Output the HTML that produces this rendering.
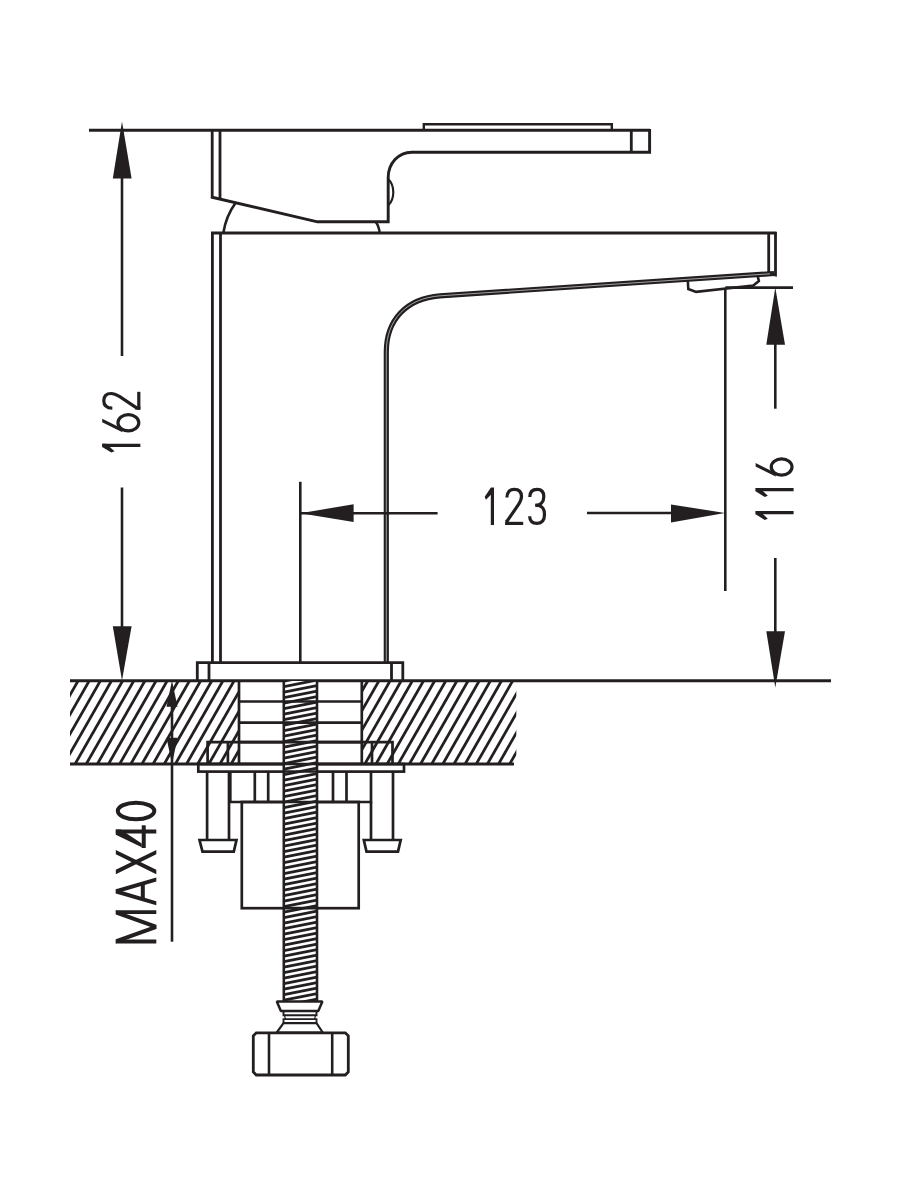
<!DOCTYPE html>
<html><head><meta charset="utf-8"><style>
html,body{margin:0;padding:0;background:#fff;width:900px;height:1200px;overflow:hidden}
svg{display:block}
text{font-family:"Liberation Sans",sans-serif}
</style></head><body>
<svg width="900" height="1200" viewBox="0 0 900 1200" stroke="#231f20" fill="none" stroke-linecap="butt" stroke-linejoin="miter">
<defs>
<clipPath id="hl"><rect x="70" y="681" width="169" height="83"/></clipPath>
<clipPath id="hr"><rect x="361.8" y="681" width="154.5" height="83"/></clipPath>
<clipPath id="rod"><rect x="283.8" y="681" width="33.2" height="320.4"/></clipPath>
</defs>
<line x1="89" y1="130.2" x2="650" y2="130.2" stroke-width="3.02"/>
<line x1="122" y1="176" x2="122" y2="356" stroke-width="2.59"/>
<line x1="122" y1="487.5" x2="122" y2="628" stroke-width="2.59"/>
<polygon points="122,121.5 112.8,178.5 131.6,178.5" fill="#231f20" stroke="none"/>
<polygon points="122,680.5 112.8,626.3 131.6,626.3" fill="#231f20" stroke="none"/>
<line x1="212.2" y1="129" x2="212.2" y2="198" stroke-width="2.81"/>
<line x1="220" y1="130" x2="220" y2="198.5" stroke-width="2.81"/>
<path d="M211,197 L317.5,221.8 L388.2,221.8 L388.2,177.5 C388.2,163.5 398.5,152.2 411.7,152.2 L649.6,152.2 L649.6,129" stroke-width="2.92" fill="none"/>
<line x1="631.3" y1="130" x2="631.3" y2="152.2" stroke-width="2.81"/>
<path d="M423.8,130 L423.8,124.3 L611.8,124.3 L611.8,130" stroke-width="2.38" fill="none"/>
<path d="M388.2,179 C395,185.5 395,199 388.2,205.5" stroke-width="2.16" fill="none"/>
<path d="M235.5,203 Q226,216 223.3,233" stroke-width="2.59" fill="none"/>
<path d="M375.8,222 Q378.8,226 379.8,233" stroke-width="2.48" fill="none"/>
<line x1="211" y1="233" x2="776.5" y2="233" stroke-width="2.92"/>
<line x1="212.4" y1="232" x2="212.4" y2="663" stroke-width="2.81"/>
<line x1="220.5" y1="233" x2="220.5" y2="663" stroke-width="2.81"/>
<path d="M775.5,232 L775.5,275 L768.7,273.5 L768.7,233" stroke-width="2.81" fill="none"/>
<path d="M774,273.5 L440,295.8 C406,298.5 386.3,320 386.3,352 L386.3,662.5" stroke-width="5.18" fill="none"/>
<path d="M770,273.8 L440,295.8 C406,298.5 386.3,320 386.3,352 L386.3,662" stroke-width="0.90" fill="none" stroke="#b0b0b0"/>
<path d="M687.8,280.5 L688.3,289 L696.1,291.9 L753.3,285.6 L758.9,281.1 L757.8,276.5" stroke-width="2.59" fill="none"/>
<path d="M197.3,680 L197.3,662.6 L402.8,662.6 L402.8,680" stroke-width="2.81" fill="none"/>
<line x1="209" y1="662.6" x2="209" y2="680" stroke-width="2.81"/>
<line x1="391.5" y1="662.6" x2="391.5" y2="680" stroke-width="2.81"/>
<line x1="300.3" y1="481.8" x2="300.3" y2="662.6" stroke-width="2.59"/>
<line x1="300.3" y1="513.2" x2="437.6" y2="513.2" stroke-width="2.59"/>
<polygon points="300.3,513.2 353.6,504.3 353.6,522.1" fill="#231f20" stroke="none"/>
<line x1="587" y1="513" x2="672" y2="513" stroke-width="2.59"/>
<polygon points="725,513 671,504.4 671,522.4" fill="#231f20" stroke="none"/>
<line x1="725.3" y1="288" x2="725.3" y2="591" stroke-width="2.59"/>
<line x1="725.3" y1="287.6" x2="793" y2="287.6" stroke-width="2.59"/>
<line x1="775.3" y1="344" x2="775.3" y2="408.7" stroke-width="2.59"/>
<line x1="775.3" y1="558" x2="775.3" y2="632" stroke-width="2.59"/>
<polygon points="775.3,287.5 766.3,344.7 785,344.7" fill="#231f20" stroke="none"/>
<polygon points="775.3,687.5 766.3,631.3 785,631.3" fill="#231f20" stroke="none"/>
<line x1="70" y1="680.7" x2="831" y2="680.7" stroke-width="2.92"/>
<line x1="70" y1="764" x2="514" y2="764" stroke-width="2.92"/>
<line x1="239" y1="681" x2="239" y2="764" stroke-width="2.70"/>
<line x1="361.8" y1="681" x2="361.8" y2="764" stroke-width="2.70"/>
<g clip-path="url(#hl)" stroke-width="2.75"><line x1="-80.91" y1="764.0" x2="-33.48" y2="681.0"/><line x1="-69.77" y1="764.0" x2="-22.34" y2="681.0"/><line x1="-58.62" y1="764.0" x2="-11.19" y2="681.0"/><line x1="-47.48" y1="764.0" x2="-0.05" y2="681.0"/><line x1="-36.34" y1="764.0" x2="11.09" y2="681.0"/><line x1="-25.19" y1="764.0" x2="22.24" y2="681.0"/><line x1="-14.05" y1="764.0" x2="33.38" y2="681.0"/><line x1="-2.90" y1="764.0" x2="44.53" y2="681.0"/><line x1="8.24" y1="764.0" x2="55.67" y2="681.0"/><line x1="19.38" y1="764.0" x2="66.81" y2="681.0"/><line x1="30.53" y1="764.0" x2="77.96" y2="681.0"/><line x1="41.67" y1="764.0" x2="89.10" y2="681.0"/><line x1="52.82" y1="764.0" x2="100.25" y2="681.0"/><line x1="63.96" y1="764.0" x2="111.39" y2="681.0"/><line x1="75.10" y1="764.0" x2="122.53" y2="681.0"/><line x1="86.25" y1="764.0" x2="133.68" y2="681.0"/><line x1="97.39" y1="764.0" x2="144.82" y2="681.0"/><line x1="108.54" y1="764.0" x2="155.97" y2="681.0"/><line x1="119.68" y1="764.0" x2="167.11" y2="681.0"/><line x1="130.82" y1="764.0" x2="178.25" y2="681.0"/><line x1="141.97" y1="764.0" x2="189.40" y2="681.0"/><line x1="153.11" y1="764.0" x2="200.54" y2="681.0"/><line x1="164.26" y1="764.0" x2="211.69" y2="681.0"/><line x1="175.40" y1="764.0" x2="222.83" y2="681.0"/><line x1="186.54" y1="764.0" x2="233.97" y2="681.0"/><line x1="197.69" y1="764.0" x2="245.12" y2="681.0"/><line x1="208.83" y1="764.0" x2="256.26" y2="681.0"/><line x1="219.98" y1="764.0" x2="267.41" y2="681.0"/><line x1="231.12" y1="764.0" x2="278.55" y2="681.0"/><line x1="242.26" y1="764.0" x2="289.69" y2="681.0"/><line x1="253.41" y1="764.0" x2="300.84" y2="681.0"/><line x1="264.55" y1="764.0" x2="311.98" y2="681.0"/><line x1="275.70" y1="764.0" x2="323.13" y2="681.0"/><line x1="286.84" y1="764.0" x2="334.27" y2="681.0"/><line x1="297.98" y1="764.0" x2="345.41" y2="681.0"/><line x1="309.13" y1="764.0" x2="356.56" y2="681.0"/><line x1="320.27" y1="764.0" x2="367.70" y2="681.0"/><line x1="331.42" y1="764.0" x2="378.85" y2="681.0"/><line x1="342.56" y1="764.0" x2="389.99" y2="681.0"/><line x1="353.70" y1="764.0" x2="401.13" y2="681.0"/><line x1="364.85" y1="764.0" x2="412.28" y2="681.0"/><line x1="375.99" y1="764.0" x2="423.42" y2="681.0"/><line x1="387.14" y1="764.0" x2="434.57" y2="681.0"/><line x1="398.28" y1="764.0" x2="445.71" y2="681.0"/><line x1="409.42" y1="764.0" x2="456.85" y2="681.0"/><line x1="420.57" y1="764.0" x2="468.00" y2="681.0"/><line x1="431.71" y1="764.0" x2="479.14" y2="681.0"/><line x1="442.86" y1="764.0" x2="490.29" y2="681.0"/><line x1="454.00" y1="764.0" x2="501.43" y2="681.0"/><line x1="465.14" y1="764.0" x2="512.57" y2="681.0"/><line x1="476.29" y1="764.0" x2="523.72" y2="681.0"/><line x1="487.43" y1="764.0" x2="534.86" y2="681.0"/><line x1="498.58" y1="764.0" x2="546.01" y2="681.0"/><line x1="509.72" y1="764.0" x2="557.15" y2="681.0"/><line x1="520.86" y1="764.0" x2="568.29" y2="681.0"/><line x1="532.01" y1="764.0" x2="579.44" y2="681.0"/><line x1="543.15" y1="764.0" x2="590.58" y2="681.0"/><line x1="554.30" y1="764.0" x2="601.73" y2="681.0"/><line x1="565.44" y1="764.0" x2="612.87" y2="681.0"/><line x1="576.58" y1="764.0" x2="624.01" y2="681.0"/><line x1="587.73" y1="764.0" x2="635.16" y2="681.0"/><line x1="598.87" y1="764.0" x2="646.30" y2="681.0"/><line x1="610.02" y1="764.0" x2="657.45" y2="681.0"/><line x1="621.16" y1="764.0" x2="668.59" y2="681.0"/><line x1="632.30" y1="764.0" x2="679.73" y2="681.0"/><line x1="643.45" y1="764.0" x2="690.88" y2="681.0"/><line x1="654.59" y1="764.0" x2="702.02" y2="681.0"/><line x1="665.74" y1="764.0" x2="713.17" y2="681.0"/><line x1="676.88" y1="764.0" x2="724.31" y2="681.0"/><line x1="688.02" y1="764.0" x2="735.45" y2="681.0"/><line x1="699.17" y1="764.0" x2="746.60" y2="681.0"/><line x1="710.31" y1="764.0" x2="757.74" y2="681.0"/><line x1="721.46" y1="764.0" x2="768.89" y2="681.0"/><line x1="732.60" y1="764.0" x2="780.03" y2="681.0"/><line x1="743.74" y1="764.0" x2="791.17" y2="681.0"/><line x1="754.89" y1="764.0" x2="802.32" y2="681.0"/><line x1="766.03" y1="764.0" x2="813.46" y2="681.0"/><line x1="777.18" y1="764.0" x2="824.61" y2="681.0"/><line x1="788.32" y1="764.0" x2="835.75" y2="681.0"/><line x1="799.46" y1="764.0" x2="846.89" y2="681.0"/><line x1="810.61" y1="764.0" x2="858.04" y2="681.0"/><line x1="821.75" y1="764.0" x2="869.18" y2="681.0"/><line x1="832.90" y1="764.0" x2="880.33" y2="681.0"/><line x1="844.04" y1="764.0" x2="891.47" y2="681.0"/><line x1="855.18" y1="764.0" x2="902.61" y2="681.0"/></g>
<g clip-path="url(#hr)" stroke-width="2.75"><line x1="-80.91" y1="764.0" x2="-33.48" y2="681.0"/><line x1="-69.77" y1="764.0" x2="-22.34" y2="681.0"/><line x1="-58.62" y1="764.0" x2="-11.19" y2="681.0"/><line x1="-47.48" y1="764.0" x2="-0.05" y2="681.0"/><line x1="-36.34" y1="764.0" x2="11.09" y2="681.0"/><line x1="-25.19" y1="764.0" x2="22.24" y2="681.0"/><line x1="-14.05" y1="764.0" x2="33.38" y2="681.0"/><line x1="-2.90" y1="764.0" x2="44.53" y2="681.0"/><line x1="8.24" y1="764.0" x2="55.67" y2="681.0"/><line x1="19.38" y1="764.0" x2="66.81" y2="681.0"/><line x1="30.53" y1="764.0" x2="77.96" y2="681.0"/><line x1="41.67" y1="764.0" x2="89.10" y2="681.0"/><line x1="52.82" y1="764.0" x2="100.25" y2="681.0"/><line x1="63.96" y1="764.0" x2="111.39" y2="681.0"/><line x1="75.10" y1="764.0" x2="122.53" y2="681.0"/><line x1="86.25" y1="764.0" x2="133.68" y2="681.0"/><line x1="97.39" y1="764.0" x2="144.82" y2="681.0"/><line x1="108.54" y1="764.0" x2="155.97" y2="681.0"/><line x1="119.68" y1="764.0" x2="167.11" y2="681.0"/><line x1="130.82" y1="764.0" x2="178.25" y2="681.0"/><line x1="141.97" y1="764.0" x2="189.40" y2="681.0"/><line x1="153.11" y1="764.0" x2="200.54" y2="681.0"/><line x1="164.26" y1="764.0" x2="211.69" y2="681.0"/><line x1="175.40" y1="764.0" x2="222.83" y2="681.0"/><line x1="186.54" y1="764.0" x2="233.97" y2="681.0"/><line x1="197.69" y1="764.0" x2="245.12" y2="681.0"/><line x1="208.83" y1="764.0" x2="256.26" y2="681.0"/><line x1="219.98" y1="764.0" x2="267.41" y2="681.0"/><line x1="231.12" y1="764.0" x2="278.55" y2="681.0"/><line x1="242.26" y1="764.0" x2="289.69" y2="681.0"/><line x1="253.41" y1="764.0" x2="300.84" y2="681.0"/><line x1="264.55" y1="764.0" x2="311.98" y2="681.0"/><line x1="275.70" y1="764.0" x2="323.13" y2="681.0"/><line x1="286.84" y1="764.0" x2="334.27" y2="681.0"/><line x1="297.98" y1="764.0" x2="345.41" y2="681.0"/><line x1="309.13" y1="764.0" x2="356.56" y2="681.0"/><line x1="320.27" y1="764.0" x2="367.70" y2="681.0"/><line x1="331.42" y1="764.0" x2="378.85" y2="681.0"/><line x1="342.56" y1="764.0" x2="389.99" y2="681.0"/><line x1="353.70" y1="764.0" x2="401.13" y2="681.0"/><line x1="364.85" y1="764.0" x2="412.28" y2="681.0"/><line x1="375.99" y1="764.0" x2="423.42" y2="681.0"/><line x1="387.14" y1="764.0" x2="434.57" y2="681.0"/><line x1="398.28" y1="764.0" x2="445.71" y2="681.0"/><line x1="409.42" y1="764.0" x2="456.85" y2="681.0"/><line x1="420.57" y1="764.0" x2="468.00" y2="681.0"/><line x1="431.71" y1="764.0" x2="479.14" y2="681.0"/><line x1="442.86" y1="764.0" x2="490.29" y2="681.0"/><line x1="454.00" y1="764.0" x2="501.43" y2="681.0"/><line x1="465.14" y1="764.0" x2="512.57" y2="681.0"/><line x1="476.29" y1="764.0" x2="523.72" y2="681.0"/><line x1="487.43" y1="764.0" x2="534.86" y2="681.0"/><line x1="498.58" y1="764.0" x2="546.01" y2="681.0"/><line x1="509.72" y1="764.0" x2="557.15" y2="681.0"/><line x1="520.86" y1="764.0" x2="568.29" y2="681.0"/><line x1="532.01" y1="764.0" x2="579.44" y2="681.0"/><line x1="543.15" y1="764.0" x2="590.58" y2="681.0"/><line x1="554.30" y1="764.0" x2="601.73" y2="681.0"/><line x1="565.44" y1="764.0" x2="612.87" y2="681.0"/><line x1="576.58" y1="764.0" x2="624.01" y2="681.0"/><line x1="587.73" y1="764.0" x2="635.16" y2="681.0"/><line x1="598.87" y1="764.0" x2="646.30" y2="681.0"/><line x1="610.02" y1="764.0" x2="657.45" y2="681.0"/><line x1="621.16" y1="764.0" x2="668.59" y2="681.0"/><line x1="632.30" y1="764.0" x2="679.73" y2="681.0"/><line x1="643.45" y1="764.0" x2="690.88" y2="681.0"/><line x1="654.59" y1="764.0" x2="702.02" y2="681.0"/><line x1="665.74" y1="764.0" x2="713.17" y2="681.0"/><line x1="676.88" y1="764.0" x2="724.31" y2="681.0"/><line x1="688.02" y1="764.0" x2="735.45" y2="681.0"/><line x1="699.17" y1="764.0" x2="746.60" y2="681.0"/><line x1="710.31" y1="764.0" x2="757.74" y2="681.0"/><line x1="721.46" y1="764.0" x2="768.89" y2="681.0"/><line x1="732.60" y1="764.0" x2="780.03" y2="681.0"/><line x1="743.74" y1="764.0" x2="791.17" y2="681.0"/><line x1="754.89" y1="764.0" x2="802.32" y2="681.0"/><line x1="766.03" y1="764.0" x2="813.46" y2="681.0"/><line x1="777.18" y1="764.0" x2="824.61" y2="681.0"/><line x1="788.32" y1="764.0" x2="835.75" y2="681.0"/><line x1="799.46" y1="764.0" x2="846.89" y2="681.0"/><line x1="810.61" y1="764.0" x2="858.04" y2="681.0"/><line x1="821.75" y1="764.0" x2="869.18" y2="681.0"/><line x1="832.90" y1="764.0" x2="880.33" y2="681.0"/><line x1="844.04" y1="764.0" x2="891.47" y2="681.0"/><line x1="855.18" y1="764.0" x2="902.61" y2="681.0"/></g>
<line x1="172" y1="705" x2="172" y2="941.7" stroke-width="2.59"/>
<polygon points="172,680.5 166.5,706.7 177.5,706.7" fill="#231f20" stroke="none"/>
<polygon points="172,764 166.5,737.8 177.5,737.8" fill="#231f20" stroke="none"/>
<line x1="240" y1="701.5" x2="361" y2="701.5" stroke-width="2.70"/>
<line x1="240" y1="722.6" x2="361" y2="722.6" stroke-width="2.70"/>
<line x1="240" y1="742.1" x2="361" y2="742.1" stroke-width="2.70"/>
<path d="M207.6,764 L207.6,742.1 L392.5,742.1 L392.5,764" stroke-width="2.70" fill="none"/>
<line x1="227.9" y1="742.1" x2="227.9" y2="764" stroke-width="2.70"/>
<line x1="372" y1="742.1" x2="372" y2="764" stroke-width="2.70"/>
<rect x="198.3" y="764" width="205.7" height="7.6" fill="none" stroke-width="2.7"/>
<path d="M230.3,771.5 L230.3,802 L371,802 L371,771.5" stroke-width="2.70" fill="none"/>
<line x1="254.8" y1="771.5" x2="254.8" y2="802" stroke-width="2.70"/>
<line x1="268.2" y1="771.5" x2="268.2" y2="802" stroke-width="2.70"/>
<line x1="333" y1="771.5" x2="333" y2="802" stroke-width="2.70"/>
<line x1="346.5" y1="771.5" x2="346.5" y2="802" stroke-width="2.70"/>
<line x1="207.1" y1="771.5" x2="207.1" y2="840" stroke-width="2.70"/>
<line x1="229" y1="771.5" x2="229" y2="840" stroke-width="2.70"/>
<path d="M199.5,840 L236.5,840 L233.8,851.6 L202.5,851.6 Z" stroke-width="2.70" fill="none"/>
<line x1="393" y1="771.5" x2="393" y2="840" stroke-width="2.70"/>
<line x1="371" y1="802" x2="371" y2="840" stroke-width="2.70"/>
<path d="M363.8,840 L400.7,840 L398,851.6 L366.5,851.6 Z" stroke-width="2.70" fill="none"/>
<rect x="241.8" y="802" width="116.9" height="106.2" fill="none" stroke-width="2.7"/>
<rect x="283.8" y="681" width="33.2" height="320.4" fill="#fff" stroke="none"/>
<g clip-path="url(#rod)" stroke-width="2.85"><line x1="284" y1="659.20" x2="317" y2="652.60"/><line x1="284" y1="664.70" x2="317" y2="658.10"/><line x1="284" y1="670.20" x2="317" y2="663.60"/><line x1="284" y1="675.70" x2="317" y2="669.10"/><line x1="284" y1="681.20" x2="317" y2="674.60"/><line x1="284" y1="686.70" x2="317" y2="680.10"/><line x1="284" y1="692.20" x2="317" y2="685.60"/><line x1="284" y1="697.70" x2="317" y2="691.10"/><line x1="284" y1="703.20" x2="317" y2="696.60"/><line x1="284" y1="708.70" x2="317" y2="702.10"/><line x1="284" y1="714.20" x2="317" y2="707.60"/><line x1="284" y1="719.70" x2="317" y2="713.10"/><line x1="284" y1="725.20" x2="317" y2="718.60"/><line x1="284" y1="730.70" x2="317" y2="724.10"/><line x1="284" y1="736.20" x2="317" y2="729.60"/><line x1="284" y1="741.70" x2="317" y2="735.10"/><line x1="284" y1="747.20" x2="317" y2="740.60"/><line x1="284" y1="752.70" x2="317" y2="746.10"/><line x1="284" y1="758.20" x2="317" y2="751.60"/><line x1="284" y1="763.70" x2="317" y2="757.10"/><line x1="284" y1="769.20" x2="317" y2="762.60"/><line x1="284" y1="774.70" x2="317" y2="768.10"/><line x1="284" y1="780.20" x2="317" y2="773.60"/><line x1="284" y1="785.70" x2="317" y2="779.10"/><line x1="284" y1="791.20" x2="317" y2="784.60"/><line x1="284" y1="796.70" x2="317" y2="790.10"/><line x1="284" y1="802.20" x2="317" y2="795.60"/><line x1="284" y1="807.70" x2="317" y2="801.10"/><line x1="284" y1="813.20" x2="317" y2="806.60"/><line x1="284" y1="818.70" x2="317" y2="812.10"/><line x1="284" y1="824.20" x2="317" y2="817.60"/><line x1="284" y1="829.70" x2="317" y2="823.10"/><line x1="284" y1="835.20" x2="317" y2="828.60"/><line x1="284" y1="840.70" x2="317" y2="834.10"/><line x1="284" y1="846.20" x2="317" y2="839.60"/><line x1="284" y1="851.70" x2="317" y2="845.10"/><line x1="284" y1="857.20" x2="317" y2="850.60"/><line x1="284" y1="862.70" x2="317" y2="856.10"/><line x1="284" y1="868.20" x2="317" y2="861.60"/><line x1="284" y1="873.70" x2="317" y2="867.10"/><line x1="284" y1="879.20" x2="317" y2="872.60"/><line x1="284" y1="884.70" x2="317" y2="878.10"/><line x1="284" y1="890.20" x2="317" y2="883.60"/><line x1="284" y1="895.70" x2="317" y2="889.10"/><line x1="284" y1="901.20" x2="317" y2="894.60"/><line x1="284" y1="906.70" x2="317" y2="900.10"/><line x1="284" y1="912.20" x2="317" y2="905.60"/><line x1="284" y1="917.70" x2="317" y2="911.10"/><line x1="284" y1="923.20" x2="317" y2="916.60"/><line x1="284" y1="928.70" x2="317" y2="922.10"/><line x1="284" y1="934.20" x2="317" y2="927.60"/><line x1="284" y1="939.70" x2="317" y2="933.10"/><line x1="284" y1="945.20" x2="317" y2="938.60"/><line x1="284" y1="950.70" x2="317" y2="944.10"/><line x1="284" y1="956.20" x2="317" y2="949.60"/><line x1="284" y1="961.70" x2="317" y2="955.10"/><line x1="284" y1="967.20" x2="317" y2="960.60"/><line x1="284" y1="972.70" x2="317" y2="966.10"/><line x1="284" y1="978.20" x2="317" y2="971.60"/><line x1="284" y1="983.70" x2="317" y2="977.10"/><line x1="284" y1="989.20" x2="317" y2="982.60"/><line x1="284" y1="994.70" x2="317" y2="988.10"/><line x1="284" y1="1000.20" x2="317" y2="993.60"/><line x1="284" y1="1005.70" x2="317" y2="999.10"/><line x1="284" y1="1011.20" x2="317" y2="1004.60"/><line x1="284" y1="1016.70" x2="317" y2="1010.10"/><line x1="284" y1="1022.20" x2="317" y2="1015.60"/><line x1="284" y1="1027.70" x2="317" y2="1021.10"/><line x1="284" y1="1033.20" x2="317" y2="1026.60"/><line x1="284" y1="1038.70" x2="317" y2="1032.10"/><line x1="284" y1="1044.20" x2="317" y2="1037.60"/><line x1="284" y1="1049.70" x2="317" y2="1043.10"/><line x1="284" y1="1055.20" x2="317" y2="1048.60"/><line x1="284" y1="1060.70" x2="317" y2="1054.10"/><line x1="284" y1="1066.20" x2="317" y2="1059.60"/></g>
<line x1="283.8" y1="681" x2="283.8" y2="1001.4" stroke-width="2.59"/>
<line x1="317" y1="681" x2="317" y2="1001.4" stroke-width="2.59"/>
<line x1="283.8" y1="701.5" x2="317" y2="701.5" stroke-width="2.70"/>
<line x1="283.8" y1="722.6" x2="317" y2="722.6" stroke-width="2.70"/>
<line x1="283.8" y1="742.1" x2="317" y2="742.1" stroke-width="2.70"/>
<line x1="283.8" y1="764" x2="317" y2="764" stroke-width="2.70"/>
<line x1="283.8" y1="771.5" x2="317" y2="771.5" stroke-width="2.70"/>
<line x1="283.8" y1="802" x2="317" y2="802" stroke-width="2.70"/>
<line x1="283.8" y1="908.2" x2="317" y2="908.2" stroke-width="2.70"/>
<path d="M276.8,1001.4 L322.4,1001.4 L318.3,1011 L280.9,1011 Z" stroke-width="2.48" fill="none" stroke-linejoin="bevel"/>
<path d="M283.5,1011 L283.5,1015.2 L316.5,1015.2 L316.5,1011" stroke-width="1.94" fill="none"/>
<path d="M284.5,1015.2 L285.5,1019.4 M315.5,1015.2 L314.5,1019.4" stroke-width="1.20" fill="none"/>
<path d="M283.5,1023 L283.5,1019.2 L316.5,1019.2 L316.5,1023" stroke-width="1.84" fill="none"/>
<path d="M283.5,1023.2 L316.5,1023.2 L322.8,1032.5 L276.7,1032.5 Z" stroke-width="2.16" fill="none" stroke-linejoin="bevel"/>
<path d="M256.3,1032.8 L345.3,1032.8 L348.3,1035.8 L348.3,1072 L345.3,1075 L256.3,1075 L253.3,1072 L253.3,1035.8 Z" stroke-width="2.81" fill="none"/>
<line x1="269" y1="1032.8" x2="269" y2="1075" stroke-width="2.59"/>
<line x1="332.2" y1="1032.8" x2="332.2" y2="1075" stroke-width="2.59"/>
<g transform="translate(484.7,487.7)"><g transform="translate(0,0)"><polygon points="6.10,0.00 9.30,0.00 9.30,4.00 1.22,12.01 0.00,8.95" stroke="none" fill="#231f20"/><polygon points="6.10,0.00 9.30,0.00 9.30,37.30 6.10,37.30" stroke="none" fill="#231f20"/></g><g transform="translate(20.6,0)"><path d="M1.60,9.88 C1.60,4.10 4.65,1.60 8.95,1.60 C13.42,1.60 16.20,4.10 16.20,8.77 C16.20,11.75 15.04,13.80 13.25,16.79 L1.76,33.46" stroke-width="3.2" fill="none"/><polygon points="0.00,34.10 17.90,34.10 17.90,37.30 0.00,37.30" stroke="none" fill="#231f20"/><polygon points="0.00,32.18 3.20,32.18 3.20,37.30 0.00,37.30" stroke="none" fill="#231f20"/></g><g transform="translate(43.5,0)"><path d="M1.60,9.32 C1.60,3.73 4.47,1.60 8.95,1.60 C13.60,1.60 15.60,3.73 15.60,8.77 C15.60,14.17 12.53,17.53 7.16,17.53" stroke-width="3.2" fill="none"/><path d="M7.16,17.53 C14.32,17.53 16.30,20.89 16.30,26.67 C16.30,32.82 13.78,35.70 8.95,35.70 C4.12,35.70 1.60,33.01 1.44,28.53" stroke-width="3.2" fill="none"/></g></g>
<g transform="translate(102.2,452.5) rotate(-90)"><g transform="translate(0,0)"><polygon points="5.60,0.00 8.80,0.00 8.80,4.00 1.22,12.30 0.00,9.17" stroke="none" fill="#231f20"/><polygon points="5.60,0.00 8.80,0.00 8.80,38.20 5.60,38.20" stroke="none" fill="#231f20"/></g><g transform="translate(20,0)"><ellipse cx="9.70" cy="26.17" rx="8.10" ry="10.43" stroke-width="3.2" fill="none"/><polygon points="10.15,0.00 13.72,0.00 3.72,20.25 0.16,20.25" stroke="none" fill="#231f20"/></g><g transform="translate(42.8,0)"><path d="M1.60,10.12 C1.60,4.20 4.65,1.60 8.95,1.60 C13.42,1.60 16.20,4.20 16.20,8.98 C16.20,12.03 15.04,14.13 13.25,17.19 L1.76,34.36" stroke-width="3.2" fill="none"/><polygon points="0.00,35.00 17.90,35.00 17.90,38.20 0.00,38.20" stroke="none" fill="#231f20"/><polygon points="0.00,33.08 3.20,33.08 3.20,38.20 0.00,38.20" stroke="none" fill="#231f20"/></g></g>
<g transform="translate(755.6,520) rotate(-90)"><g transform="translate(0,0)"><polygon points="5.80,0.00 9.00,0.00 9.00,4.00 1.22,12.24 0.00,9.12" stroke="none" fill="#231f20"/><polygon points="5.80,0.00 9.00,0.00 9.00,38.00 5.80,38.00" stroke="none" fill="#231f20"/></g><g transform="translate(23,0)"><polygon points="5.70,0.00 8.90,0.00 8.90,4.00 1.22,12.24 0.00,9.12" stroke="none" fill="#231f20"/><polygon points="5.70,0.00 8.90,0.00 8.90,38.00 5.70,38.00" stroke="none" fill="#231f20"/></g><g transform="translate(43.3,0)"><ellipse cx="9.70" cy="26.03" rx="8.10" ry="10.37" stroke-width="3.2" fill="none"/><polygon points="10.14,0.00 13.72,0.00 3.73,20.14 0.15,20.14" stroke="none" fill="#231f20"/></g></g>
<g transform="translate(115.8,943.5) rotate(-90)"><g transform="translate(0,0)"><polygon points="0.00,0.00 3.88,0.00 3.88,40.50 0.00,40.50" stroke="none" fill="#231f20"/><polygon points="29.42,0.00 33.30,0.00 33.30,40.50 29.42,40.50" stroke="none" fill="#231f20"/><polygon points="0.04,0.00 4.29,0.00 18.77,40.50 14.53,40.50" stroke="none" fill="#231f20"/><polygon points="29.01,0.00 33.26,0.00 18.77,40.50 14.53,40.50" stroke="none" fill="#231f20"/></g><g transform="translate(38.1,0)"><polygon points="11.92,0.00 16.08,0.00 4.20,40.50 0.03,40.50" stroke="none" fill="#231f20"/><polygon points="11.92,0.00 16.08,0.00 27.97,40.50 23.80,40.50" stroke="none" fill="#231f20"/><polygon points="5.60,25.01 22.40,25.01 22.40,29.01 5.60,29.01" stroke="none" fill="#231f20"/></g><g transform="translate(69.2,0)"><polygon points="0.11,0.00 4.56,0.00 24.39,40.50 19.94,40.50" stroke="none" fill="#231f20"/><polygon points="19.94,0.00 24.39,0.00 4.56,40.50 0.11,40.50" stroke="none" fill="#231f20"/></g><g transform="translate(95.5,0)"><polygon points="14.50,0.00 18.50,0.00 18.50,40.50 14.50,40.50" stroke="none" fill="#231f20"/><polygon points="0.00,25.94 22.70,25.94 22.70,29.94 0.00,29.94" stroke="none" fill="#231f20"/><polygon points="13.30,0.00 18.50,0.00 18.50,4.80 4.60,25.94 0.00,25.94 0.00,27.54" stroke="none" fill="#231f20"/></g><g transform="translate(122.2,0)"><ellipse cx="10.30" cy="20.25" rx="8.30" ry="18.25" stroke-width="4.0" fill="none"/></g></g>
</svg>
</body></html>
